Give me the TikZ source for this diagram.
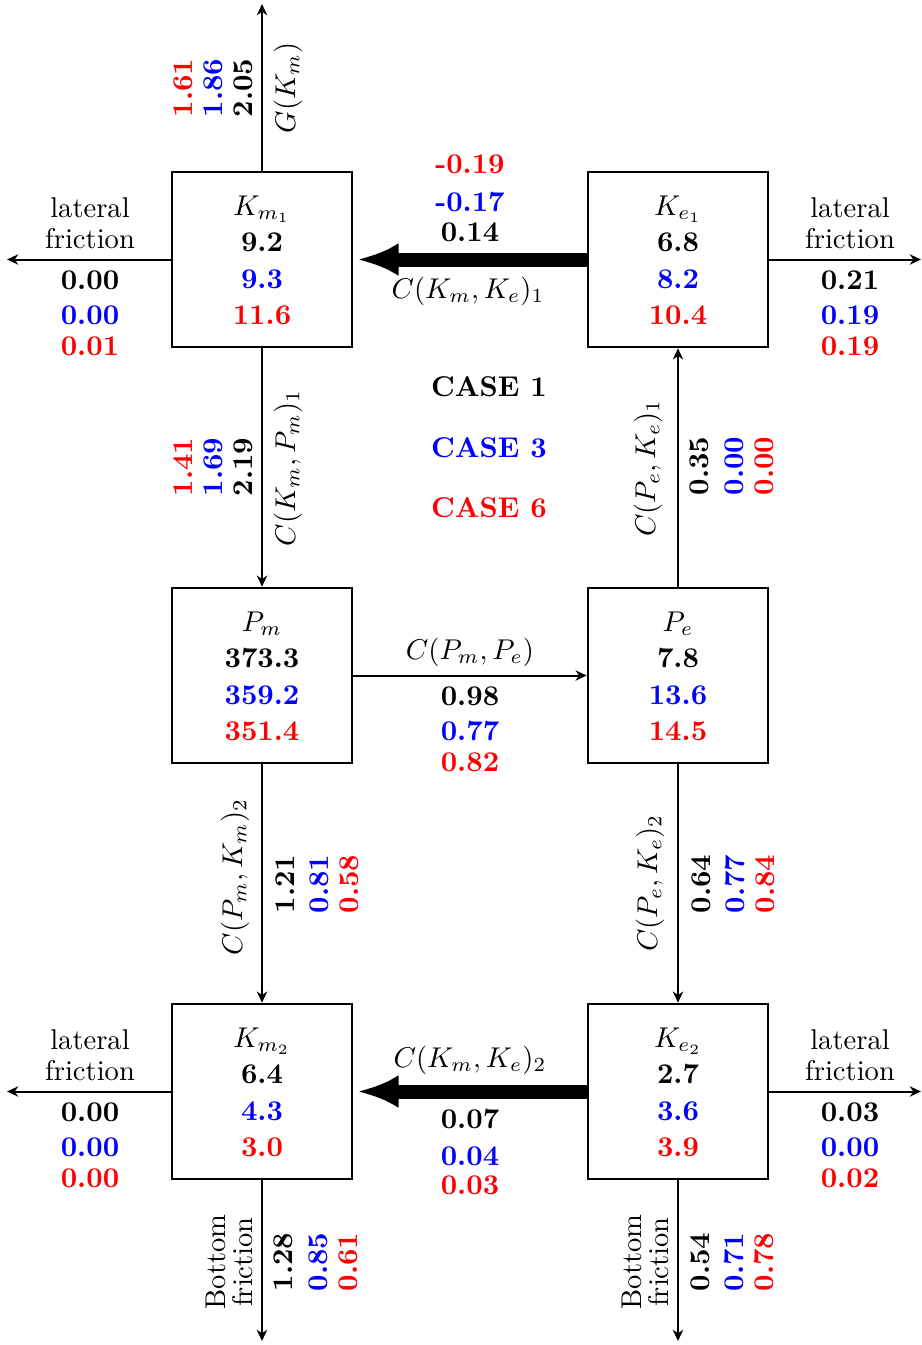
\documentclass[tikz,border=0pt]{standalone}
\usetikzlibrary{arrows.meta}
\begin{document}
\begin{tikzpicture}[x=0.35pt,y=-0.35pt,
  box/.style={draw, line width=0.9pt, minimum width=63pt, minimum height=61.25pt, inner sep=0pt},
  txt/.style={anchor=base, inner sep=0pt},
  vtxt/.style={anchor=base, inner sep=0pt, rotate=90},
  num/.style={txt, font=\bfseries},
  vnum/.style={vtxt, font=\bfseries},
  thinarrow/.style={line width=0.7pt, -{Stealth[length=3.9pt,width=3.6pt,inset=1.2pt]}},
  fatarrow/.style={line width=4.9pt, -{Latex[length=14.4pt,width=11.6pt]}, shorten >=1.5pt},
]
\fill[white] (0,0) rectangle (922,1345);
\useasboundingbox (0,0) rectangle (922,1345);

% boxes
\node[box] (Km1) at (262,259.5) {};
\node[box] (Ke1) at (678,259.5) {};
\node[box] (Pm) at (262,675.5) {};
\node[box] (Pe) at (678,675.5) {};
\node[box] (Km2) at (262,1091.5) {};
\node[box] (Ke2) at (678,1091.5) {};

% box contents
\node[txt] (tKm1) at (262,215) {$K_{m_1}$};
\node[num] (aKm1) at (262,251) {9.2};
\node[num,blue] (bKm1) at (262,288) {9.3};
\node[num,red] (cKm1) at (262,324) {11.6};

\node[txt] (tKe1) at (678,215) {$K_{e_1}$};
\node[num] (aKe1) at (678,251) {6.8};
\node[num,blue] (bKe1) at (678,288) {8.2};
\node[num,red] (cKe1) at (678,324) {10.4};

\node[txt] (tPm) at (262,631) {$P_m$};
\node[num] (aPm) at (262,667) {373.3};
\node[num,blue] (bPm) at (262,704) {359.2};
\node[num,red] (cPm) at (262,740) {351.4};

\node[txt] (tPe) at (678,631) {$P_e$};
\node[num] (aPe) at (678,667) {7.8};
\node[num,blue] (bPe) at (678,704) {13.6};
\node[num,red] (cPe) at (678,740) {14.5};

\node[txt] (tKm2) at (262,1047) {$K_{m_2}$};
\node[num] (aKm2) at (262,1083) {6.4};
\node[num,blue] (bKm2) at (262,1120) {4.3};
\node[num,red] (cKm2) at (262,1156) {3.0};

\node[txt] (tKe2) at (678,1047) {$K_{e_2}$};
\node[num] (aKe2) at (678,1083) {2.7};
\node[num,blue] (bKe2) at (678,1120) {3.6};
\node[num,red] (cKe2) at (678,1156) {3.9};

% free ends
\coordinate (topend) at (262,4);
\coordinate (lf1) at (7,259.5);
\coordinate (rf1) at (921,259.5);
\coordinate (lf2) at (7,1091.5);
\coordinate (rf2) at (921,1091.5);
\coordinate (bf1) at (262,1341);
\coordinate (bf2) at (678,1341);

% connectors
\draw[thinarrow] (Km1.north) -- (topend);
\draw[thinarrow] (Km1.west) -- (lf1);
\draw[thinarrow] (Ke1.east) -- (rf1);
\draw[thinarrow] (Km2.west) -- (lf2);
\draw[thinarrow] (Ke2.east) -- (rf2);
\draw[thinarrow] (Km2.south) -- (bf1);
\draw[thinarrow] (Ke2.south) -- (bf2);
\draw[thinarrow] (Km1.south) -- (Pm.north);
\draw[thinarrow] (Pe.north) -- (Ke1.south);
\draw[thinarrow] (Pm.east) -- (Pe.west);
\draw[thinarrow] (Pm.south) -- (Km2.north);
\draw[thinarrow] (Pe.south) -- (Ke2.north);
\draw[fatarrow] (Ke1.west) -- (Km1.east);
\draw[fatarrow] (Ke2.west) -- (Km2.east);

% top G(K_m)
\node[vtxt] (lG) at (295,88) {$G(K_m)$};
\node[vnum] (gA) at (252,88) {2.05};
\node[vnum,blue] (gB) at (222,88) {1.86};
\node[vnum,red] (gC) at (192,88) {1.61};

% lateral friction top left
\node[txt] (lfl1) at (90,217) {lateral};
\node[txt] (lfl2) at (90,248) {friction};
\node[num] (lfA) at (90,289) {0.00};
\node[num,blue] (lfB) at (90,324) {0.00};
\node[num,red] (lfC) at (90,355) {0.01};

% lateral friction top right
\node[txt] (rfl1) at (850,217) {lateral};
\node[txt] (rfl2) at (850,248) {friction};
\node[num] (rfA) at (850,289) {0.21};
\node[num,blue] (rfB) at (850,324) {0.19};
\node[num,red] (rfC) at (850,355) {0.19};

% lateral friction bottom left
\node[txt] (lfl3) at (90,1049) {lateral};
\node[txt] (lfl4) at (90,1080) {friction};
\node[num] (lfD) at (90,1121) {0.00};
\node[num,blue] (lfE) at (90,1156) {0.00};
\node[num,red] (lfF) at (90,1187) {0.00};

% lateral friction bottom right
\node[txt] (rfl3) at (850,1049) {lateral};
\node[txt] (rfl4) at (850,1080) {friction};
\node[num] (rfD) at (850,1121) {0.03};
\node[num,blue] (rfE) at (850,1156) {0.00};
\node[num,red] (rfF) at (850,1187) {0.02};

% C(Km,Ke)_1
\node[num,red] (k1C) at (470,173) {-0.19};
\node[num,blue] (k1B) at (470,211) {-0.17};
\node[num] (k1A) at (470,241) {0.14};
\node[txt] (lk1) at (468,298) {$C(K_m,K_e)_1$};

% CASE labels
\node[num] (case1) at (489,396) {CASE 1};
\node[num,blue] (case3) at (489,457) {CASE 3};
\node[num,red] (case6) at (489,517) {CASE 6};

% C(Km,Pm)_1
\node[vtxt] (lkp1) at (295,468) {$C(K_m,P_m)_1$};
\node[vnum] (kpA) at (252,467) {2.19};
\node[vnum,blue] (kpB) at (222,467) {1.69};
\node[vnum,red] (kpC) at (192,467) {1.41};

% C(Pe,Ke)_1
\node[vtxt] (lpk1) at (655,468) {$C(P_e,K_e)_1$};
\node[vnum] (pkA) at (708,466) {0.35};
\node[vnum,blue] (pkB) at (743,466) {0.00};
\node[vnum,red] (pkC) at (773,466) {0.00};

% C(Pm,Pe)
\node[txt] (lpp) at (470,659) {$C(P_m,P_e)$};
\node[num] (ppA) at (470,705) {0.98};
\node[num,blue] (ppB) at (470,740) {0.77};
\node[num,red] (ppC) at (470,771) {0.82};

% C(Pm,Km)_2
\node[vtxt] (lpk2) at (242,877) {$C(P_m,K_m)_2$};
\node[vnum] (pmA) at (294,884) {1.21};
\node[vnum,blue] (pmB) at (328,884) {0.81};
\node[vnum,red] (pmC) at (358,884) {0.58};

% C(Pe,Ke)_2
\node[vtxt] (lpe2) at (657,883) {$C(P_e,K_e)_2$};
\node[vnum] (peA) at (710,884) {0.64};
\node[vnum,blue] (peB) at (744,884) {0.77};
\node[vnum,red] (peC) at (774,884) {0.84};

% C(Km,Ke)_2
\node[txt] (lk2) at (470,1067) {$C(K_m,K_e)_2$};
\node[num] (k2A) at (470,1128) {0.07};
\node[num,blue] (k2B) at (470,1165) {0.04};
\node[num,red] (k2C) at (470,1194) {0.03};

% bottom friction left
\node[vtxt] (bfl1) at (225,1262) {Bottom};
\node[vtxt] (bfl2) at (252,1262) {friction};
\node[vnum] (bfA) at (292,1262) {1.28};
\node[vnum,blue] (bfB) at (327,1262) {0.85};
\node[vnum,red] (bfC) at (357,1262) {0.61};

% bottom friction right
\node[vtxt] (bfr1) at (641,1262) {Bottom};
\node[vtxt] (bfr2) at (668,1262) {friction};
\node[vnum] (bfD) at (709,1262) {0.54};
\node[vnum,blue] (bfE) at (743,1262) {0.71};
\node[vnum,red] (bfF) at (773,1262) {0.78};
\end{tikzpicture}
\end{document}
